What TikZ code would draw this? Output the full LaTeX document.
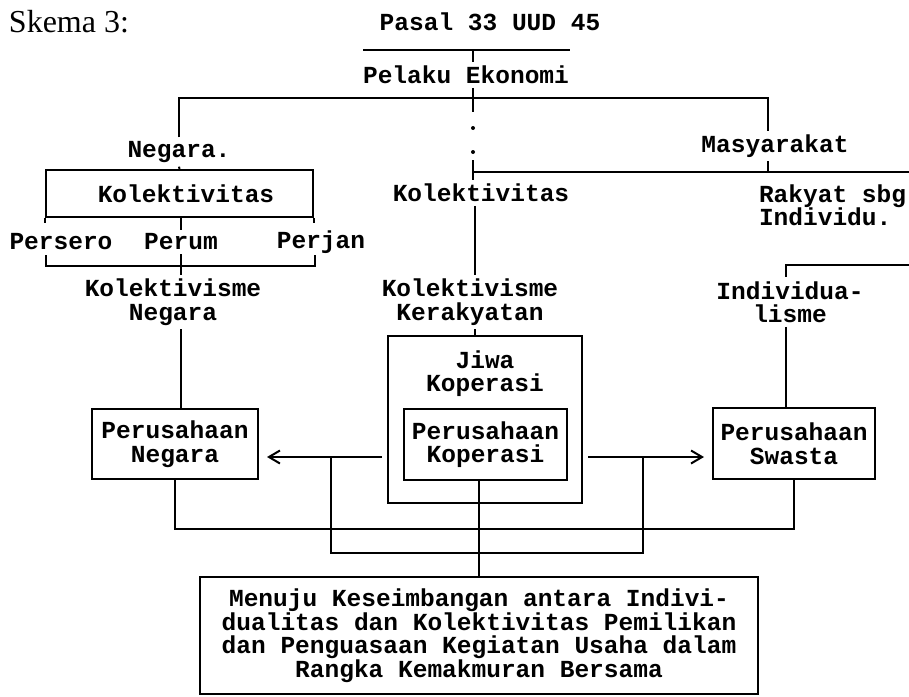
\documentclass[tikz,border=0pt]{standalone}
\usepackage{fontspec}
\setmainfont{Liberation Serif}
\newfontfamily\skemamono{Liberation Mono}
\usetikzlibrary{arrows.meta,
positioning,
calc}

\begin{document}
\begin{tikzpicture} [x=1pt, y=-1pt,
    line width=2pt,
    >={Straight Barb[length=11pt,width=13pt]},
    every node/.style={font=\skemamono\bfseries\fontsize{24.5}{23.5}\selectfont, inner sep=3pt},
    main node/.style={rectangle, draw, align=center},
    teks node/.style={align=center}]

  \useasboundingbox (0,0) rectangle (909,696);

  \node [anchor=west, font=\rmfamily\fontsize{32}{32}\selectfont] (skema) at (5,22) {Skema 3:};

  % kepala
  \node [] (pasal) at (490,22) {Pasal 33 UUD 45};
  \coordinate (garis_l) at (363,50);
  \coordinate (garis_r) at (570,50);
  \draw (garis_l) -- (garis_r);

  \node [] (pelaku) at (466,75) {Pelaku Ekonomi};
  \coordinate (pusat) at (473,50);
  \draw (pusat) -- (pusat |- pelaku.north);

  % cabang atas
  \node [] (negara) at (179,152) {Negara.};
  \node [] (masy) at (775,146) {Masyarakat};
  \coordinate (cab_kiri) at (179,98);
  \coordinate (cab_kanan) at (768,98);
  \draw (negara.north) -- (cab_kiri) -- (cab_kanan) -- (cab_kanan |- masy.north);

  % garis titik-titik
  \coordinate (tengah_a) at (473,112);
  \coordinate (tengah_b) at (473,160);
  \draw (pusat |- pelaku.south) -- (tengah_a);
  \fill (473,128) circle (2pt);
  \fill (473,152) circle (2pt);

  \node [] (kol_tengah) at (481,193) {Kolektivitas};
  \draw (tengah_b) -- (pusat |- kol_tengah.north);

  \coordinate (masy_garis) at (473,172);
  \coordinate (tepi_a) at (909,172);
  \draw (masy_garis) -- (tepi_a);
  \draw (cab_kanan |- masy.south) -- (cab_kanan |- masy_garis);

  \node [anchor=west, align=left] (rakyat) at (755,205) {Rakyat sbg\\Individu.};

  % kolom kiri
  \node [main node,
    minimum width=267pt,
    minimum height=47pt
  ] (kolbox) at (179.5,193.5) {\hspace{13pt}Kolektivitas};
  \draw (negara.south) -- (kolbox.north);

  \node [] (persero) at (61,242) {Persero};
  \node [] (perum) at (181,242) {Perum};
  \node [] (perjan) at (321,242) {Perjan};

  \draw (kolbox.south west) -- ++(0,5);
  \draw (kolbox.south east) -- ++(0,5);
  \draw (perum.north |- kolbox.south) -- (perum.north);

  \coordinate (kurung_l) at (46,266);
  \coordinate (kurung_r) at (315,266);
  \draw ($(kurung_l) + (0,-11)$) -- (kurung_l) -- (kurung_r) -- ($(kurung_r) + (0,-11)$);

  \node [teks node] (kneg) at (173,302) {Kolektivisme\\Negara};
  \draw (perum.south) -- (perum.south |- kneg.north);

  \node [main node,
    minimum width=166pt,
    minimum height=70pt
  ] (pnegara) at (175,444) {Perusahaan\\Negara};
  \draw (perum.south |- kneg.south) -- (perum.south |- pnegara.north);

  % kolom tengah
  \coordinate (sumbu) at (475,0);
  \node [teks node] (krak) at (470,302) {Kolektivisme\\Kerakyatan};
  \draw (sumbu |- kol_tengah.south) -- (sumbu |- krak.north);

  \node [main node,
    minimum width=194pt,
    minimum height=167pt
  ] (jiwa) at (485,419.5) {};
  \node [teks node] (jiwa_teks) at (485,373.5) {Jiwa\\Koperasi};
  \draw (sumbu |- krak.south) -- (sumbu |- jiwa.north);

  \node [main node,
    minimum width=163pt,
    minimum height=71pt
  ] (kop) at (485.5,444.5) {Perusahaan\\Koperasi};

  % kolom kanan
  \coordinate (kanan_b) at (786,265);
  \coordinate (tepi_b) at (909,265);
  \node [teks node] (indiv) at (790,302) {Individua-\\lisme};
  \draw (tepi_b) -- (kanan_b) -- (kanan_b |- indiv.north);

  \node [main node,
    minimum width=162pt,
    minimum height=71pt
  ] (swasta) at (794,443.5) {Perusahaan\\Swasta};
  \draw (kanan_b |- indiv.south) -- (kanan_b |- swasta.north);

  % panah
  \coordinate (pangkal_l) at (382,457);
  \coordinate (pangkal_r) at (588,457);
  \draw [->, shorten >=8pt] (pangkal_l) -- (pangkal_l -| pnegara.east);
  \draw [->, shorten >=8pt] (pangkal_r) -- (pangkal_r -| swasta.west);

  \coordinate (kiri_c) at (331,457);
  \coordinate (kanan_c) at (643,457);
  \coordinate (bawah_a) at (480,529);
  \coordinate (bawah_b) at (480,553);
  \draw (kiri_c) |- (bawah_b) -| (kanan_c);
  \draw (pnegara.south) |- (bawah_a) -| (swasta.south);

  % kotak bawah
  \node [main node,
    minimum width=558pt,
    minimum height=117pt
  ] (bawah) at (479,635.5) {Menuju Keseimbangan antara Indivi-\\dualitas dan Kolektivitas Pemilikan\\dan Penguasaan Kegiatan Usaha dalam\\Rangka Kemakmuran Bersama};
  \draw (bawah.north |- kop.south) -- (bawah.north);

\end{tikzpicture}
\end{document}
